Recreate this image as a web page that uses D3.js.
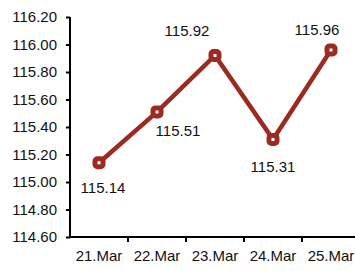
<!DOCTYPE html>
<html>
<head>
<meta charset="utf-8">
<script src="https://cdn.jsdelivr.net/npm/d3@7"></script>
<style>
  body { margin: 0; background: #fff; }
  text { font-family: "Liberation Sans", Arial, sans-serif; }
</style>
</head>
<body>
<div id="chart"></div>
<script>
// values
var dates = ["21.Mar", "22.Mar", "23.Mar", "24.Mar", "25.Mar"];
var rates = [115.14, 115.51, 115.92, 115.31, 115.96];
var yTicks = [114.6, 114.8, 115.0, 115.2, 115.4, 115.6, 115.8, 116.0, 116.2];

var width = 355, height = 271;
var margin = { top: 17, right: -5, bottom: 34, left: 70 };
var red = "#9b2a22";

var svg = d3.select("#chart").append("svg")
  .attr("width", width)
  .attr("height", height);

var x = d3.scaleBand()
  .domain(dates)
  .range([margin.left, width - margin.right]);

var y = d3.scaleLinear()
  .domain([114.6, 116.2])
  .range([height - margin.bottom, margin.top]);

// y axis
var yAxis = svg.append("g")
  .attr("transform", `translate(${margin.left},0)`)
  .call(d3.axisLeft(y).tickValues(yTicks).tickFormat(d3.format(".2f")).tickSize(4).tickPadding(9));
yAxis.select(".domain").attr("stroke", "#000").attr("stroke-width", 2).attr("d", `M0,${margin.top}V${height - margin.bottom}`);
yAxis.selectAll(".tick line").attr("stroke-width", 2);
yAxis.selectAll("text").style("font-size", "15px").attr("fill", "#111");

// x axis
var xAxis = svg.append("g")
  .attr("transform", `translate(0,${height - margin.bottom})`)
  .call(d3.axisBottom(x).tickSize(0).tickPadding(13));
xAxis.select(".domain").attr("stroke", "#000").attr("stroke-width", 2).attr("d", `M${margin.left},0H${width}`);
xAxis.selectAll("text").style("font-size", "15px").attr("fill", "#111");
// ticks between categories
xAxis.selectAll(".sep")
  .data(dates.slice(1))
  .enter().append("line")
  .attr("x1", (d) => x(d)).attr("x2", (d) => x(d))
  .attr("y1", 0).attr("y2", 5)
  .attr("stroke", "#000").attr("stroke-width", 2);

var cx = (d, i) => x(dates[i]) + x.bandwidth() / 2;

var line = d3.line()
  .x((d, i) => cx(d, i))
  .y((d) => y(d));

svg.append("path")
  .datum(rates)
  .attr("d", line)
  .attr("fill", "none")
  .attr("stroke", red)
  .attr("stroke-width", 4.5);

svg.selectAll(".mark")
  .data(rates)
  .enter().append("rect")
  .attr("class", "mark")
  .attr("x", (d, i) => cx(d, i) - 4)
  .attr("y", (d) => y(d) - 4)
  .attr("width", 8)
  .attr("height", 8)
  .attr("rx", 2.5)
  .attr("fill", "#fff")
  .attr("stroke", red)
  .attr("stroke-width", 5);

// label placement relative to each point
var off = [[4, 30], [21, 24], [-28, -20], [0, 33], [-14, -15]];

svg.selectAll(".lbl")
  .data(rates)
  .enter().append("text")
  .attr("class", "lbl")
  .attr("x", (d, i) => cx(d, i) + off[i][0])
  .attr("y", (d, i) => y(d) + off[i][1])
  .attr("text-anchor", "middle")
  .style("font-size", "15px")
  .attr("fill", "#111")
  .text((d) => d.toFixed(2));
</script>
</body>
</html>
